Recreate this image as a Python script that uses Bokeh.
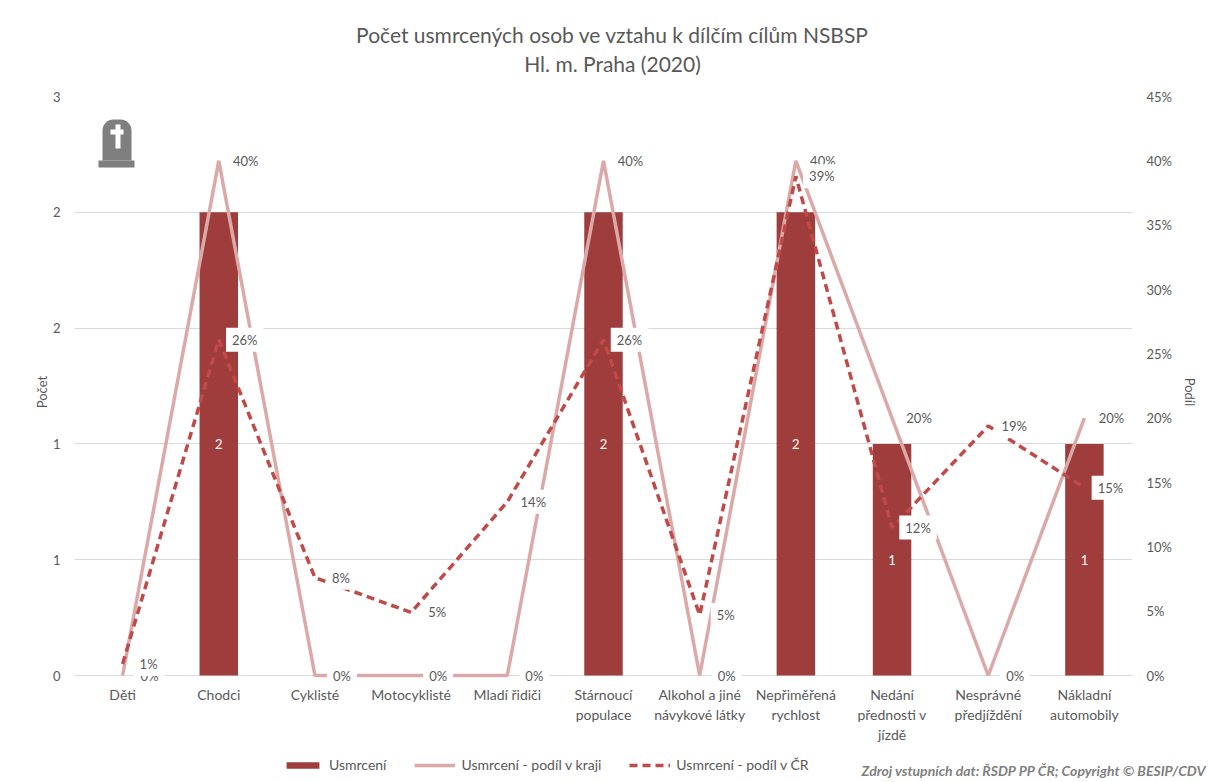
from bokeh.plotting import figure
from bokeh.layouts import column
from bokeh.models import (ColumnDataSource, Range1d, LinearAxis, FixedTicker, Label,
                          Legend, LegendItem, BoxAnnotation)
from bokeh.core.properties import value
from bokeh.embed import file_html
from bokeh.resources import INLINE

title_lines = ["Počet usmrcených osob ve vztahu k dílčím cílům NSBSP", "Hl. m. Praha (2020)"]
categories = ["Děti", "Chodci", "Cyklisté", "Motocyklisté", "Mladí řidiči", "Stárnoucí\npopulace",
              "Alkohol a jiné\nnávykové látky", "Nepřiměřená\nrychlost", "Nedání\npřednosti v\njízdě",
              "Nesprávné\npředjíždění", "Nákladní\nautomobily"]
usmrceni = [0, 2, 0, 0, 0, 2, 0, 2, 1, 0, 1]
podil_kraj = [0, 40, 0, 0, 0, 40, 0, 40, 20, 0, 20]
podil_cr = [0.9, 26.1, 7.6, 4.9, 13.5, 26.1, 4.7, 38.8, 11.5, 19.4, 14.6]
left_ticks = [0, 0.5, 1, 1.5, 2, 2.5]
left_labels = ["0", "1", "1", "2", "2", "3"]
right_ticks = [0, 5, 10, 15, 20, 25, 30, 35, 40, 45]

FONT = "Lato"
TXT = "#595959"
GRID = "#d9d9d9"
BAR = "#9e3d3c"
LIGHT = "#dba9a8"
DASH = "#bf4a48"

xs = list(range(len(categories)))

# strip above the chart: the two-line centred title
TOP = 80
t = figure(width=1207, height=TOP, x_range=Range1d(0, 1207), y_range=Range1d(TOP, 0), output_backend="svg",
           toolbar_location=None, min_border=0, outline_line_color=None, tools="", frame_align=False,
           x_axis_location=None, y_axis_location=None)
t.grid.visible = False
for line, y in zip(title_lines, (34, 63)):
    t.add_layout(Label(x=612, y=y, text=line, text_align="center", text_baseline="middle", text_font=FONT,
                       text_font_size="21px", text_color=TXT))

# the frame reaches 12px below the zero line so that the 0% labels are not cut by it
PAD = 12
PLOT_H = 579
p = figure(width=1200, height=750 - TOP, frame_width=1058, frame_height=PLOT_H + PAD,
           x_range=Range1d(-0.5, 10.5), y_range=Range1d(-2.5 * PAD / PLOT_H, 2.5), frame_align=False,
           output_backend="svg", toolbar_location=None, min_border_left=74, min_border_right=68,
           min_border_top=96 - TOP, min_border_bottom=75 - PAD, outline_line_color=None, tools="")
p.extra_y_ranges = {"pct": Range1d(-45 * PAD / PLOT_H, 45)}

src = ColumnDataSource(dict(
    x=xs, n=usmrceni, half=[v / 2 for v in usmrceni], kraj=podil_kraj, cr=podil_cr,
    nlab=[str(v) if v else "" for v in usmrceni],
    krajlab=[f"{v:.0f}%" for v in podil_kraj], crlab=[f"{v:.0f}%" for v in podil_cr]))

p.vbar(x="x", top="n", width=0.4, fill_color=BAR, line_color=None, source=src)
p.line(x="x", y="kraj", y_range_name="pct", line_color=LIGHT, line_width=3.5, source=src)
p.line(x="x", y="cr", y_range_name="pct", line_color=DASH, line_width=3.5, line_dash="8 5", source=src)

common = dict(text_font=value(FONT), text_font_size="13px", text_baseline="middle", text_align="center",
              background_fill_color="white", padding=(6, 4), source=src)
p.text(x="x", y="kraj", text="krajlab", y_range_name="pct", x_offset=27, text_color=TXT, **common)
p.text(x="x", y="cr", text="crlab", y_range_name="pct", x_offset=26, text_color=TXT, **common)
p.text(x="x", y="half", text="nlab", text_color="white", text_font=value(FONT), text_font_size="13px",
       text_baseline="middle", text_align="center", source=src)

ax = p.yaxis[0]
ax.ticker = FixedTicker(ticks=left_ticks)
ax.major_label_overrides = {t_: s_ for t_, s_ in zip(left_ticks, left_labels)}
ax.axis_label = "Počet"
ax.axis_label_standoff = 0
ar = LinearAxis(y_range_name="pct", ticker=FixedTicker(ticks=right_ticks), axis_label="Podíl",
                major_label_overrides={t_: f"{t_}%" for t_ in right_ticks}, axis_label_standoff=7)
p.add_layout(ar, "right")
for a in (ax, ar):
    a.axis_line_color = None
    a.major_tick_line_color = None
    a.minor_tick_line_color = None
    a.major_label_text_font = FONT
    a.major_label_text_font_size = "13px"
    a.major_label_text_color = TXT
    a.major_label_standoff = 8
    a.axis_label_text_font = FONT
    a.axis_label_text_font_size = "13px"
    a.axis_label_text_font_style = "normal"
    a.axis_label_text_color = TXT

xa = p.xaxis[0]
xa.ticker = FixedTicker(ticks=xs)
xa.major_label_overrides = dict(zip(xs, categories))
xa.axis_line_color = None
xa.major_tick_line_color = None
xa.minor_tick_line_color = None
xa.major_label_text_font = FONT
xa.major_label_text_font_size = "14px"
xa.major_label_text_color = TXT
xa.major_label_standoff = 4 - PAD

p.xgrid.visible = False
p.ygrid.ticker = FixedTicker(ticks=left_ticks)
p.ygrid.grid_line_color = GRID
p.ygrid.level = "underlay"

def box(l, r, t_, b, color, **kw):
    p.add_layout(BoxAnnotation(left=l, right=r, top=t_ - TOP, bottom=b - TOP, left_units="canvas", right_units="canvas",
                               top_units="canvas", bottom_units="canvas", fill_color=color, fill_alpha=1,
                               line_color=None, level="overlay", **kw))
box(102, 131, 119, 160, "#7f7f7f", border_radius={"top_left": 11, "top_right": 11, "bottom_left": 0, "bottom_right": 0})
box(98, 134, 160, 167, "#7f7f7f")
box(115, 120, 124, 148, "white")
box(110, 123, 129, 134, "white")

# strip under the chart: legend and source note
s = figure(width=1207, height=30, x_range=Range1d(0, 1207), y_range=Range1d(30, 0), output_backend="svg",
           toolbar_location=None, min_border=0, outline_line_color=None, tools="", frame_align=False,
           x_axis_location=None, y_axis_location=None)
s.grid.visible = False
key = ColumnDataSource(dict(x=[-500, -400], y=[500, 500]))
r1 = s.vbar(x="x", top="y", bottom="y", width=1, fill_color=BAR, line_color=None, source=key)
r2 = s.line(x="x", y="y", line_color=LIGHT, line_width=3.5, source=key)
r3 = s.line(x="x", y="y", line_color=DASH, line_width=3.5, line_dash="8 5", source=key)
legend = Legend(items=[LegendItem(label="Usmrcení", renderers=[r1]),
                       LegendItem(label="Usmrcení - podíl v kraji", renderers=[r2]),
                       LegendItem(label="Usmrcení - podíl v ČR", renderers=[r3])],
                orientation="horizontal", location=(282, 7), border_line_color=None,
                background_fill_alpha=0, glyph_width=41, glyph_height=8, label_standoff=6,
                spacing=28, margin=0, padding=0, label_text_font=FONT, label_text_font_size="14px",
                label_text_color=TXT)
s.add_layout(legend)
s.add_layout(Label(x=1206, y=20, text_align="right", text_baseline="middle",
                   text="Zdroj vstupních dat: ŘSDP PP ČR; Copyright © BESIP/CDV",
                   text_font=FONT, text_font_size="14px", text_font_style="bold italic", text_color="#7f7f7f"))

open("out.html", "w").write(file_html(column(t, p, s, spacing=0), INLINE))
